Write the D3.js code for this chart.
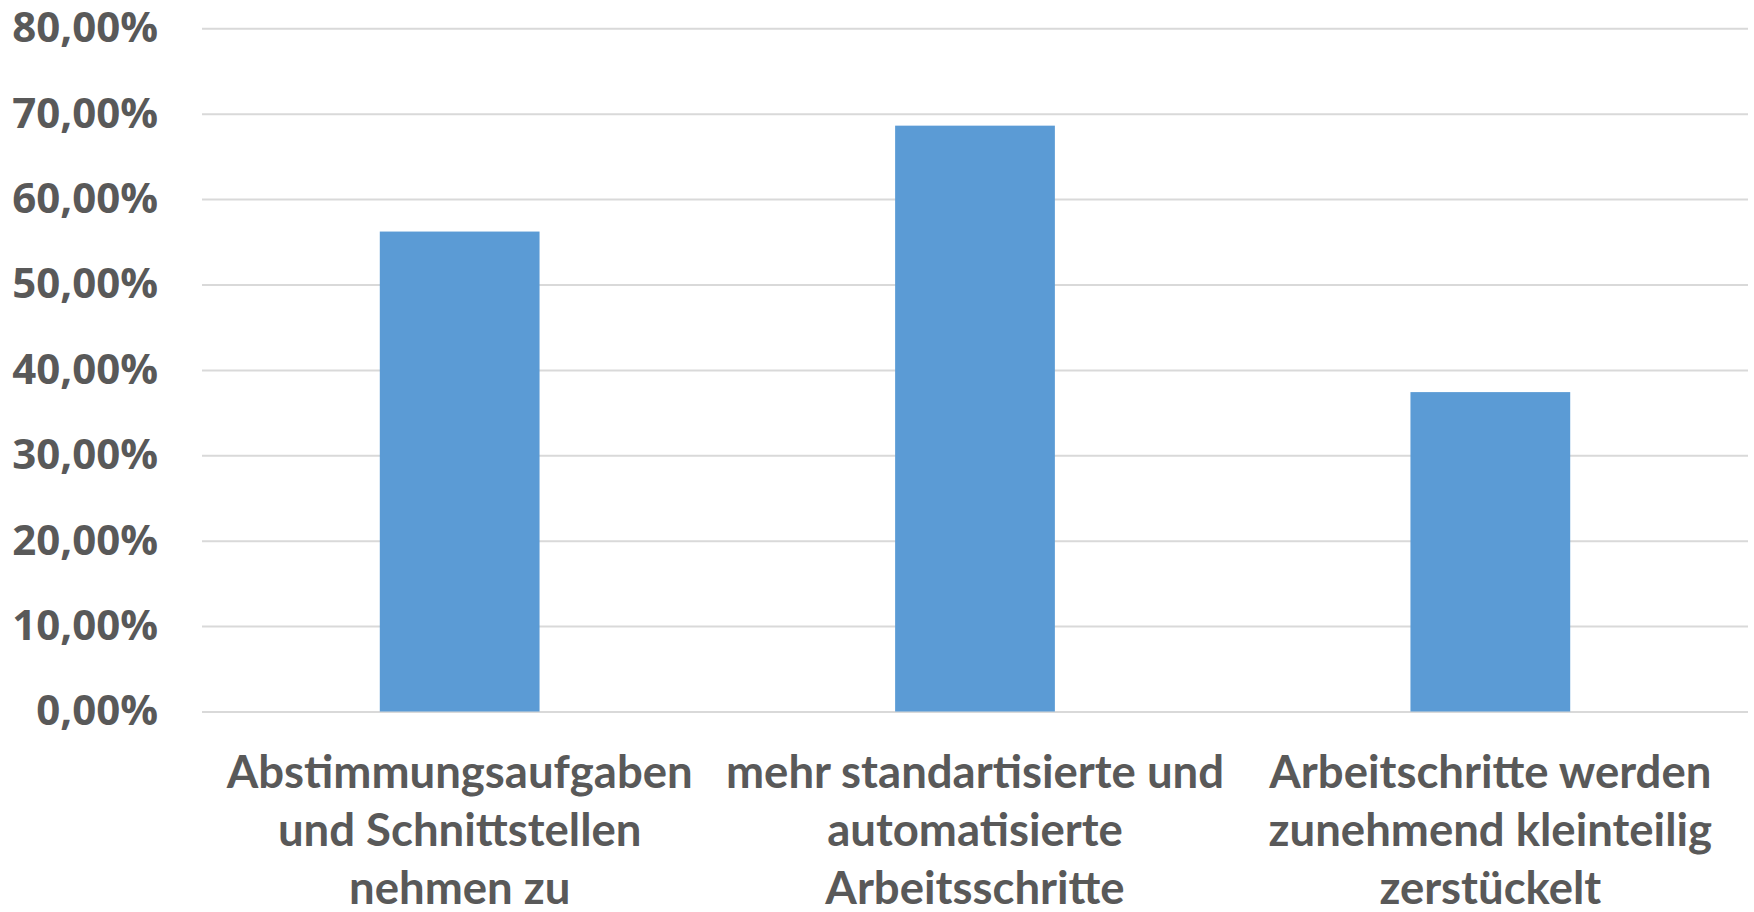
<!DOCTYPE html>
<html>
<head>
<meta charset="utf-8">
<script src="https://cdn.jsdelivr.net/npm/d3@7"></script>
<style>
  html, body { margin: 0; padding: 0; background: #fff; }
  svg { display: block; }
</style>
</head>
<body>
<svg id="chart" width="1754" height="912"></svg>
<script>
const categories = [
  "Abstimmungsaufgaben und Schnittstellen nehmen zu",
  "mehr standartisierte und automatisierte Arbeitsschritte",
  "Arbeitschritte werden zunehmend kleinteilig zerstückelt"
];
const categoryLines = [
  ["Abstimmungsaufgaben", "und Schnittstellen", "nehmen zu"],
  ["mehr standartisierte und", "automatisierte", "Arbeitsschritte"],
  ["Arbeitschritte werden", "zunehmend kleinteilig", "zerstückelt"]
];
const values = [56.2, 68.6, 37.4];
const yTicks = [0, 10, 20, 30, 40, 50, 60, 70, 80];

(function () {
const svg = d3.select("#chart");
const pLeft = 202, pRight = 1748, pTop = 28.3, pBottom = 711.5;

const x = d3.scaleBand().domain(categories).range([pLeft, pRight])
  .paddingInner(0.69).paddingOuter(0.345);
const y = d3.scaleLinear().domain([0, 80]).range([pBottom, pTop]);

const fmt = v => v.toFixed(2).replace(".", ",") + "%";

// gridlines + y labels
const yAxis = d3.axisLeft(y).tickValues(yTicks).tickSize(-(pRight - pLeft)).tickFormat(fmt).tickPadding(44);
const gy = svg.append("g").attr("transform", `translate(${pLeft},0)`).call(yAxis);
gy.select(".domain").remove();
gy.selectAll(".tick line").attr("stroke", "#d9d9d9").attr("stroke-width", 2);
gy.selectAll(".tick text")
  .attr("fill", "#595959")
  .style("font-family", "'Open Sans', sans-serif")
  .style("font-weight", "700")
  .style("font-size", "42px");

// bars
svg.append("g").selectAll("rect").data(values).join("rect")
  .attr("x", (d, i) => x(categories[i]))
  .attr("width", x.bandwidth())
  .attr("y", d => y(d))
  .attr("height", d => y(0) - y(d))
  .attr("fill", "#5b9bd5");

// x labels
const xAxis = d3.axisBottom(x).tickSize(0).tickFormat("");
const gx = svg.append("g").attr("transform", `translate(0,${pBottom})`).call(xAxis);
gx.select(".domain").remove();
gx.selectAll(".tick").each(function (d, i) {
  const t = d3.select(this).append("text")
    .attr("fill", "#595959")
    .attr("text-anchor", "middle")
    .style("font-family", "Lato, sans-serif")
    .style("font-weight", "700")
    .style("font-size", "45.5px");
  categoryLines[i].forEach((line, j) => {
    t.append("tspan").attr("x", 0).attr("y", 76 + j * 58).text(line);
  });
});
})();
</script>
</body>
</html>
